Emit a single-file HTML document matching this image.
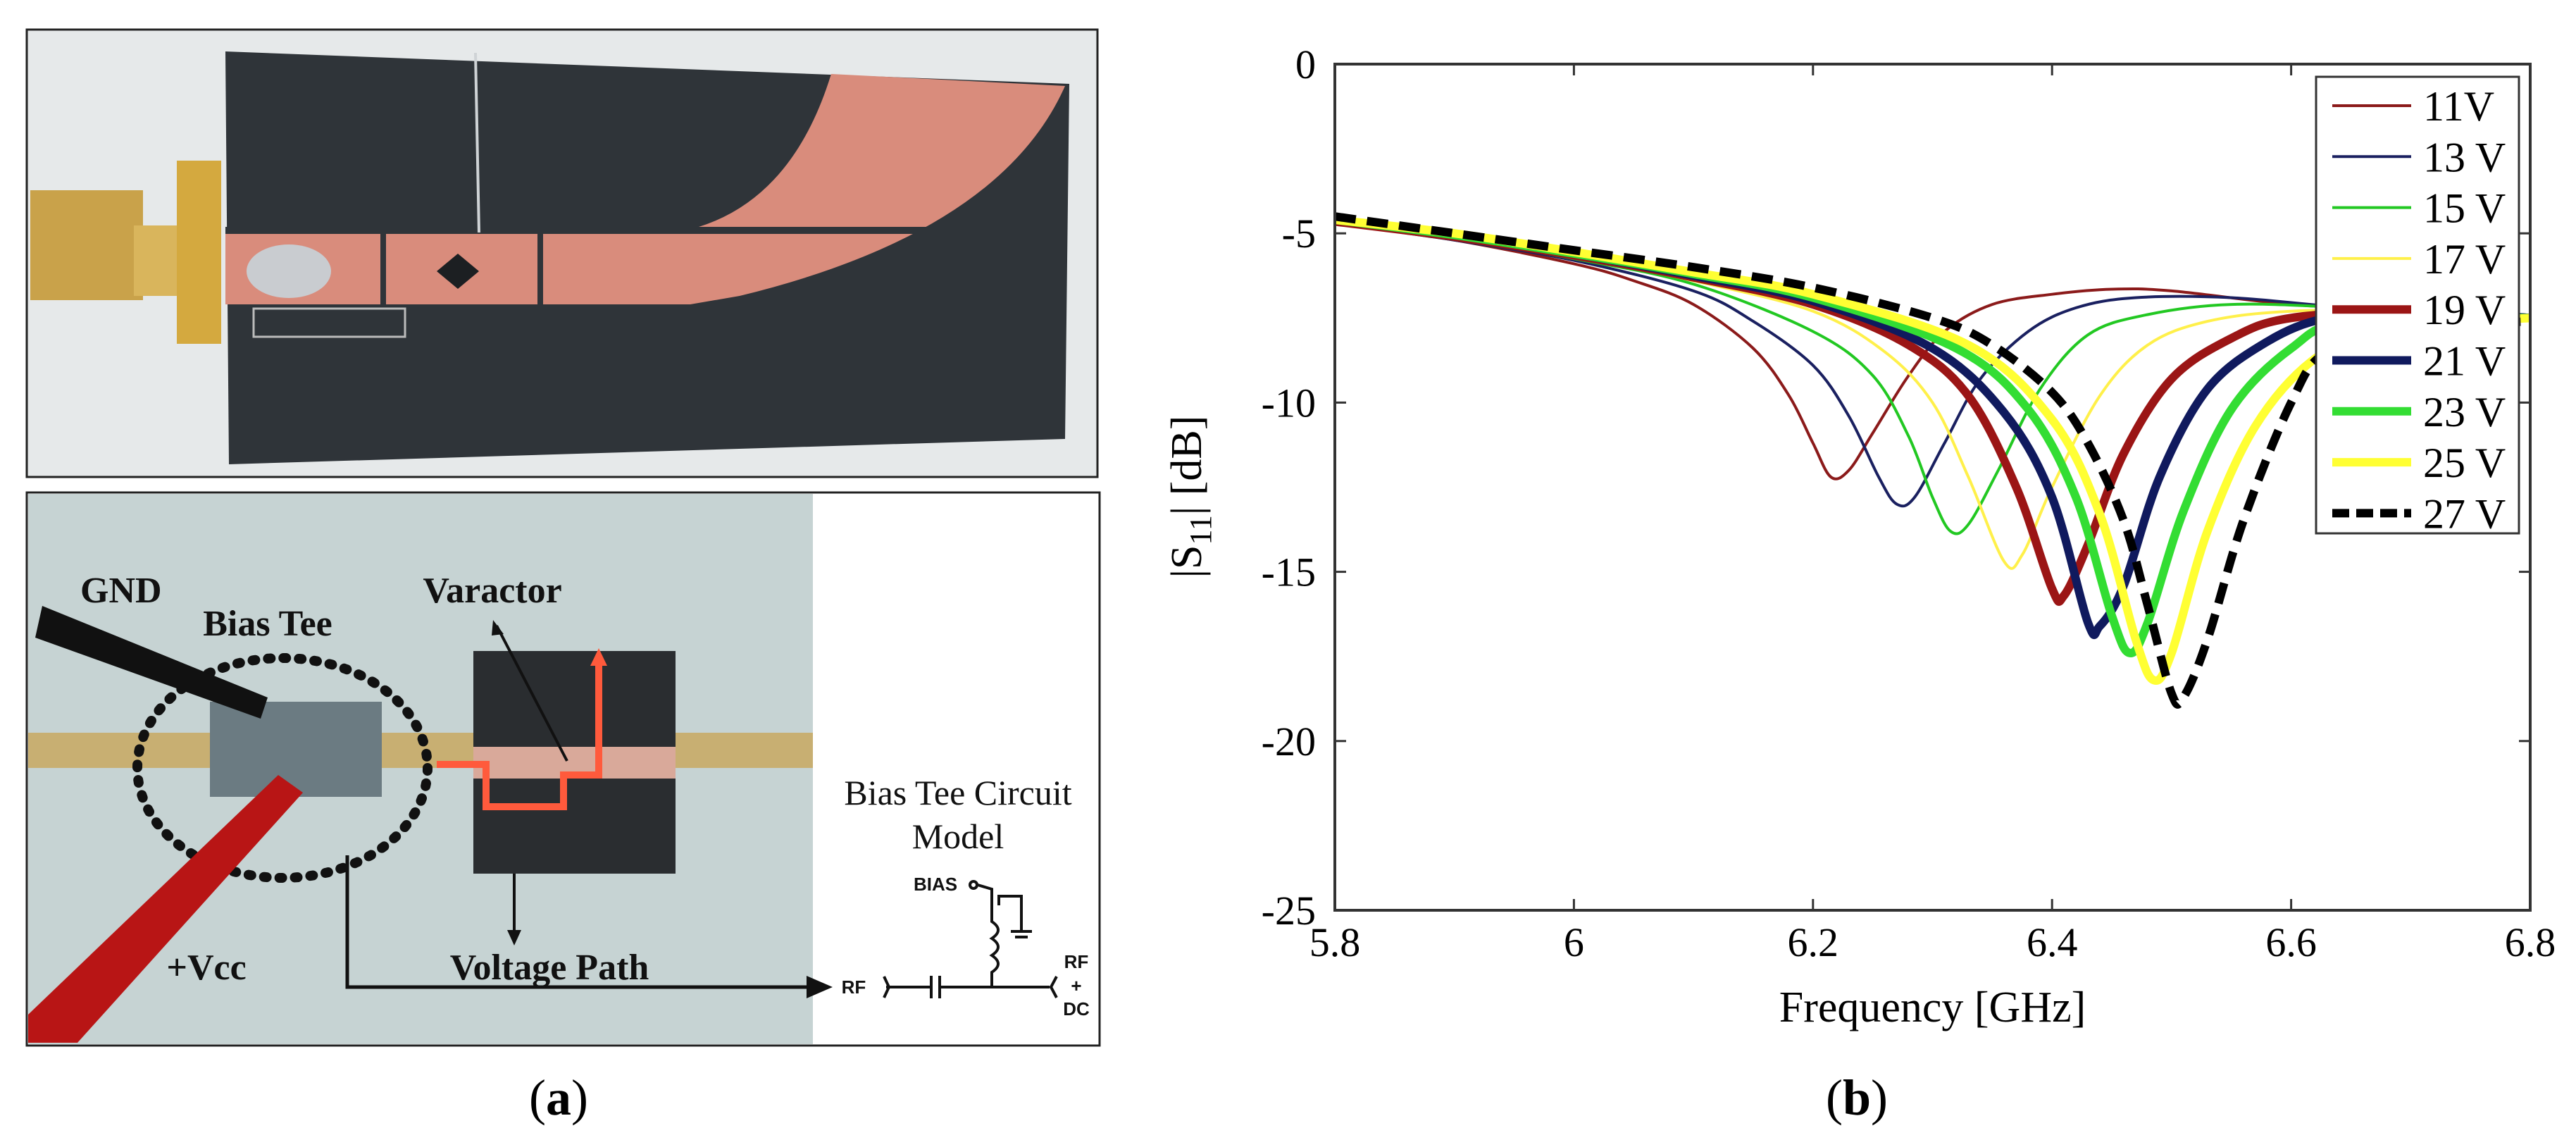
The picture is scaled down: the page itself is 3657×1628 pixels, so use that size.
<!DOCTYPE html>
<html><head><meta charset="utf-8"><style>
html,body{margin:0;padding:0;background:#fff;}
svg{display:block;}
.serif{font-family:"Liberation Serif",serif;}
.sans{font-family:"Liberation Sans",sans-serif;}
</style></head><body>
<svg id="fig" width="3657" height="1628" viewBox="0 0 3657 1628" xmlns="http://www.w3.org/2000/svg">
<rect width="3657" height="1628" fill="#fff"/>
<!-- Panel (a) top photo -->
<g>
  <rect x="38" y="42" width="1520" height="635" fill="#e6e9ea" stroke="#222" stroke-width="3"/>
  <polygon points="320,73 1518,119 1512,623 325,659" fill="#2f3439"/>
  <path d="M1180,105 L1512,122 Q1420,330 1050,420 L980,432 L320,432 L320,330 L960,330 Q1120,300 1180,105 Z" fill="#d98c7c"/>
  <rect x="320" y="322" width="1000" height="10" fill="#2f3439"/>
  <rect x="540" y="330" width="8" height="102" fill="#2f3439"/>
  <rect x="763" y="330" width="8" height="102" fill="#2f3439"/>
  <polygon points="650,360 680,385 650,410 620,385" fill="#1c1f22"/>
  <ellipse cx="410" cy="385" rx="60" ry="38" fill="#c9ccd0"/>
  <rect x="360" y="438" width="215" height="40" fill="none" stroke="#bbb" stroke-width="3"/>
  <rect x="43" y="270" width="160" height="156" fill="#c9a24a"/>
  <rect x="190" y="320" width="70" height="100" fill="#d9b55c"/>
  <rect x="251" y="228" width="63" height="260" fill="#d4a93f"/>
  <line x1="675" y1="75" x2="680" y2="330" stroke="#cfd3d6" stroke-width="4"/>
</g>
<!-- Panel (a) bottom photo -->
<g>
  <rect x="38" y="699" width="1523" height="785" fill="#fff" stroke="#222" stroke-width="3"/>
  <rect x="40" y="701" width="1114" height="781" fill="#c6d3d3"/>
  <rect x="40" y="1040" width="1114" height="50" fill="#c8a65a" opacity="0.8"/>
  <rect x="672" y="924" width="287" height="316" fill="#2a2d30"/>
  <rect x="672" y="1060" width="287" height="45" fill="#d9a99a"/>
  <rect x="298" y="996" width="244" height="135" fill="#6b7b82"/>
  <ellipse cx="401" cy="1090" rx="206" ry="156" fill="none" stroke="#111" stroke-width="14" stroke-dasharray="4,18" stroke-linecap="round"/>
  <polygon points="50,905 60,860 380,990 370,1020" fill="#111"/>
  <polygon points="395,1100 430,1125 110,1480 40,1480 40,1440" fill="#b81515"/>
  <path d="M620,1085 L690,1085 L690,1145 L800,1145 L800,1100 L850,1100 L850,940" fill="none" stroke="#ff5a3c" stroke-width="10"/>
  <polygon points="838,945 850,920 862,945" fill="#ff5a3c"/>
  <line x1="705" y1="888" x2="805" y2="1080" stroke="#111" stroke-width="4"/>
  <polygon points="700,880 715,900 698,902" fill="#111"/>
  <line x1="730" y1="1240" x2="730" y2="1325" stroke="#111" stroke-width="4"/>
  <polygon points="720,1320 740,1320 730,1342" fill="#111"/>
  <polyline points="493,1214 493,1401 1150,1401" fill="none" stroke="#111" stroke-width="5"/>
  <polygon points="1145,1385 1182,1401 1145,1417" fill="#111"/>
  <text class="serif" x="114" y="855" font-size="52" font-weight="bold" fill="#111">GND</text>
  <text class="serif" x="380" y="902" font-size="52" font-weight="bold" fill="#111" text-anchor="middle">Bias Tee</text>
  <text class="serif" x="699" y="855" font-size="52" font-weight="bold" fill="#111" text-anchor="middle">Varactor</text>
  <text class="serif" x="293" y="1390" font-size="52" font-weight="bold" fill="#111" text-anchor="middle">+Vcc</text>
  <text class="serif" x="780" y="1390" font-size="52" font-weight="bold" fill="#111" text-anchor="middle">Voltage Path</text>
  <text class="serif" x="1360" y="1142" font-size="50" fill="#111" text-anchor="middle">Bias Tee Circuit</text>
  <text class="serif" x="1360" y="1204" font-size="50" fill="#111" text-anchor="middle">Model</text>
  <g stroke="#111" stroke-width="4" fill="none">
    <polyline points="1258,1401 1320,1401"/><line x1="1322" y1="1385" x2="1322" y2="1417"/><line x1="1334" y1="1385" x2="1334" y2="1417"/>
    <polyline points="1336,1401 1490,1401"/>
    <path d="M1408,1401 L1408,1380 q18,-12 0,-24 q18,-12 0,-24 q18,-12 0,-24 L1408,1262 L1388,1256"/>
    <circle cx="1382" cy="1256" r="5"/>
    <polyline points="1418,1285 1418,1272 1450,1272 1450,1320"/><line x1="1435" y1="1322" x2="1465" y2="1322"/><line x1="1441" y1="1330" x2="1459" y2="1330"/>
    <polyline points="1255,1386 1262,1401 1255,1416"/><polyline points="1500,1386 1492,1401 1500,1416"/>
  </g>
  <text class="sans" x="1328" y="1264" font-size="26" font-weight="bold" fill="#111" text-anchor="middle">BIAS</text>
  <text class="sans" x="1212" y="1410" font-size="26" font-weight="bold" fill="#111" text-anchor="middle">RF</text>
  <text class="sans" x="1528" y="1374" font-size="26" font-weight="bold" fill="#111" text-anchor="middle">RF</text>
  <text class="sans" x="1528" y="1408" font-size="26" font-weight="bold" fill="#111" text-anchor="middle">+</text>
  <text class="sans" x="1528" y="1441" font-size="26" font-weight="bold" fill="#111" text-anchor="middle">DC</text>
</g>
<text class="serif" x="793" y="1582" font-size="72" text-anchor="middle">(<tspan font-weight="bold">a</tspan>)</text>
<text class="serif" x="2636" y="1582" font-size="72" text-anchor="middle">(<tspan font-weight="bold">b</tspan>)</text>
<g id="chart"></g>
</svg>
<script>
const xTicks=[5.8,6.0,6.2,6.4,6.6,6.8];
const xTickLabels=["5.8","6","6.2","6.4","6.6","6.8"];
const yTicks=[0,-5,-10,-15,-20,-25];
const yTickLabels=["0","-5","-10","-15","-20","-25"];
const seriesNames=["11V","13 V","15 V","17 V","19 V","21 V","23 V","25 V","27 V"];
const f11=[5.8,5.9,6.0,6.05,6.1,6.15,6.18,6.2,6.215,6.23,6.25,6.28,6.31,6.35,6.4,6.45,6.5,6.6,6.7,6.8];
const s11=[-4.7,-5.2,-5.9,-6.4,-7.1,-8.4,-9.8,-11.2,-12.2,-12.0,-10.9,-9.2,-7.9,-7.1,-6.8,-6.65,-6.7,-7.1,-7.3,-7.5];
const f13=[5.8,5.9,6.0,6.1,6.15,6.2,6.23,6.255,6.27,6.285,6.31,6.34,6.38,6.42,6.47,6.55,6.65,6.8];
const s13=[-4.7,-5.2,-5.8,-6.7,-7.6,-8.9,-10.4,-12.2,-13.0,-12.8,-11.2,-9.3,-7.9,-7.2,-6.9,-6.9,-7.2,-7.5];
const f15=[5.8,5.9,6.0,6.1,6.2,6.25,6.28,6.3,6.315,6.33,6.355,6.39,6.43,6.48,6.55,6.65,6.8];
const s15=[-4.7,-5.15,-5.75,-6.5,-7.9,-9.2,-11.0,-12.8,-13.8,-13.6,-12.0,-9.6,-8.0,-7.4,-7.1,-7.2,-7.5];
const f17=[5.8,5.9,6.0,6.1,6.2,6.26,6.3,6.33,6.36,6.375,6.4,6.44,6.48,6.53,6.6,6.7,6.8];
const s17=[-4.65,-5.1,-5.7,-6.4,-7.3,-8.5,-10.0,-12.2,-14.7,-14.5,-12.5,-9.8,-8.3,-7.6,-7.3,-7.3,-7.5];
const f19=[5.8,5.9,6.0,6.1,6.2,6.28,6.33,6.37,6.4,6.41,6.43,6.46,6.5,6.55,6.6,6.7,6.8];
const s19=[-4.65,-5.1,-5.65,-6.3,-7.1,-8.3,-9.8,-12.5,-15.5,-15.7,-14.2,-11.5,-9.3,-8.1,-7.5,-7.3,-7.5];
const f21=[5.8,5.9,6.0,6.1,6.2,6.3,6.36,6.4,6.43,6.44,6.46,6.49,6.53,6.58,6.63,6.7,6.8];
const s21=[-4.6,-5.05,-5.6,-6.25,-7.0,-8.4,-10.3,-12.8,-16.5,-16.6,-15.4,-12.2,-9.6,-8.2,-7.5,-7.3,-7.5];
const f23=[5.8,5.9,6.0,6.1,6.2,6.32,6.38,6.42,6.45,6.465,6.48,6.51,6.55,6.6,6.65,6.8];
const s23=[-4.6,-5.05,-5.6,-6.2,-6.9,-8.4,-10.2,-12.8,-16.3,-17.4,-16.5,-13.2,-10.2,-8.4,-7.6,-7.5];
const f25=[5.8,5.9,6.0,6.1,6.2,6.33,6.4,6.44,6.47,6.485,6.5,6.53,6.57,6.62,6.68,6.8];
const s25=[-4.6,-5.0,-5.55,-6.15,-6.8,-8.3,-10.5,-13.3,-17.0,-18.2,-17.4,-13.8,-10.7,-8.7,-7.8,-7.5];
const f27=[5.8,5.9,6.0,6.1,6.2,6.3,6.35,6.4,6.43,6.46,6.48,6.5,6.51,6.53,6.56,6.6,6.63,6.7,6.8];
const s27=[-4.5,-5.0,-5.5,-6.0,-6.6,-7.5,-8.3,-9.7,-11.2,-13.5,-16.0,-18.6,-18.7,-17.0,-13.5,-10.0,-8.5,-7.8,-7.6];

const NS="http://www.w3.org/2000/svg";
const g=document.getElementById('chart');
const X0=1895,X1=3592,Y0=91,Y1=1292;
const xs=v=>X0+(v-5.8)/(6.8-5.8)*(X1-X0);
const ys=v=>Y0+(0-v)/(0-(-25))*(Y1-Y0);
function mk(t,a){const e=document.createElementNS(NS,t);for(const k in a)e.setAttribute(k,a[k]);g.appendChild(e);return e;}
function smooth(fx,sy){const p=fx.map((f,i)=>[xs(f),ys(sy[i])]);let d="M"+p[0][0].toFixed(1)+","+p[0][1].toFixed(1);
 for(let i=0;i<p.length-1;i++){const a=p[Math.max(0,i-1)],b=p[i],c=p[i+1],e=p[Math.min(p.length-1,i+2)];
  const c1=[b[0]+(c[0]-a[0])/6,b[1]+(c[1]-a[1])/6],c2=[c[0]-(e[0]-b[0])/6,c[1]-(e[1]-b[1])/6];
  d+=" C"+c1[0].toFixed(1)+","+c1[1].toFixed(1)+" "+c2[0].toFixed(1)+","+c2[1].toFixed(1)+" "+c[0].toFixed(1)+","+c[1].toFixed(1);}
 return d;}
const freqs=[f11,f13,f15,f17,f19,f21,f23,f25,f27];
const vals=[s11,s13,s15,s17,s19,s21,s23,s25,s27];
const colors=["#8b1a1a","#1a2060","#22c822","#fff04a","#9b1515","#101a5e","#33dd33","#ffff33","#000"];
const widths=[4,4,4,4,12,12,12,12,12];
const dashes=["","","","","","","","","30,16"];
const names=["curve-11v","curve-13v","curve-15v","curve-17v","curve-19v","curve-21v","curve-23v","curve-25v","curve-27v"];
// clip
const cp=mk('clipPath',{id:'plotclip'});g.removeChild(cp);
const defs=document.createElementNS(NS,'defs');defs.appendChild(cp);g.appendChild(defs);
const cr=document.createElementNS(NS,'rect');cr.setAttribute('x',X0);cr.setAttribute('y',Y0);cr.setAttribute('width',X1-X0);cr.setAttribute('height',Y1-Y0);cp.appendChild(cr);
for(let i=0;i<9;i++){
 const p=mk('path',{d:smooth(freqs[i],vals[i]),fill:'none',stroke:colors[i],'stroke-width':widths[i],'stroke-linejoin':'round','clip-path':'url(#plotclip)'});
 if(dashes[i])p.setAttribute('stroke-dasharray',dashes[i]);
 
 
}
// axes box
const box=mk('rect',{x:X0,y:Y0,width:X1-X0,height:Y1-Y0,fill:'none',stroke:'#333','stroke-width':4});


xTicks.forEach((v,i)=>{const x=xs(v);
 mk('line',{x1:x,y1:Y1,x2:x,y2:Y1-16,stroke:'#333','stroke-width':3});
 mk('line',{x1:x,y1:Y0,x2:x,y2:Y0+16,stroke:'#333','stroke-width':3});
 const t=mk('text',{x:x,y:1357,'font-size':58,'text-anchor':'middle','font-family':'Liberation Serif, serif'});t.textContent=xTickLabels[i];
 
 
});
yTicks.forEach((v,i)=>{const y=ys(v);
 mk('line',{x1:X0,y1:y,x2:X0+16,y2:y,stroke:'#333','stroke-width':3});
 mk('line',{x1:X1,y1:y,x2:X1-16,y2:y,stroke:'#333','stroke-width':3});
 const t=mk('text',{x:1868,y:y+20,'font-size':58,'text-anchor':'end','font-family':'Liberation Serif, serif'});t.textContent=yTickLabels[i];
 
 
});
const xl=mk('text',{x:(X0+X1)/2,y:1450,'font-size':62,'text-anchor':'middle','font-family':'Liberation Serif, serif'});xl.textContent="Frequency [GHz]";


const yl=mk('text',{x:0,y:0,'font-size':62,'text-anchor':'middle','font-family':'Liberation Serif, serif',transform:'translate(1705,705) rotate(-90)'});
yl.innerHTML='|S<tspan font-size="44" dy="14">11</tspan><tspan dy="-14">| [dB]</tspan>';


// legend
const lg=mk('rect',{x:3288,y:109,width:288,height:648,fill:'#fff',stroke:'#333','stroke-width':3});


seriesNames.forEach((n,i)=>{const cy=150+i*72.3;
 const l=mk('line',{x1:3311,y1:cy,x2:3423,y2:cy,stroke:colors[i],'stroke-width':widths[i]});
 if(dashes[i])l.setAttribute('stroke-dasharray','24,10');
 
 
 const t=mk('text',{x:3440,y:cy+21,'font-size':60,'font-family':'Liberation Serif, serif'});t.textContent=n;
 
 
});
</script>
</body></html>
